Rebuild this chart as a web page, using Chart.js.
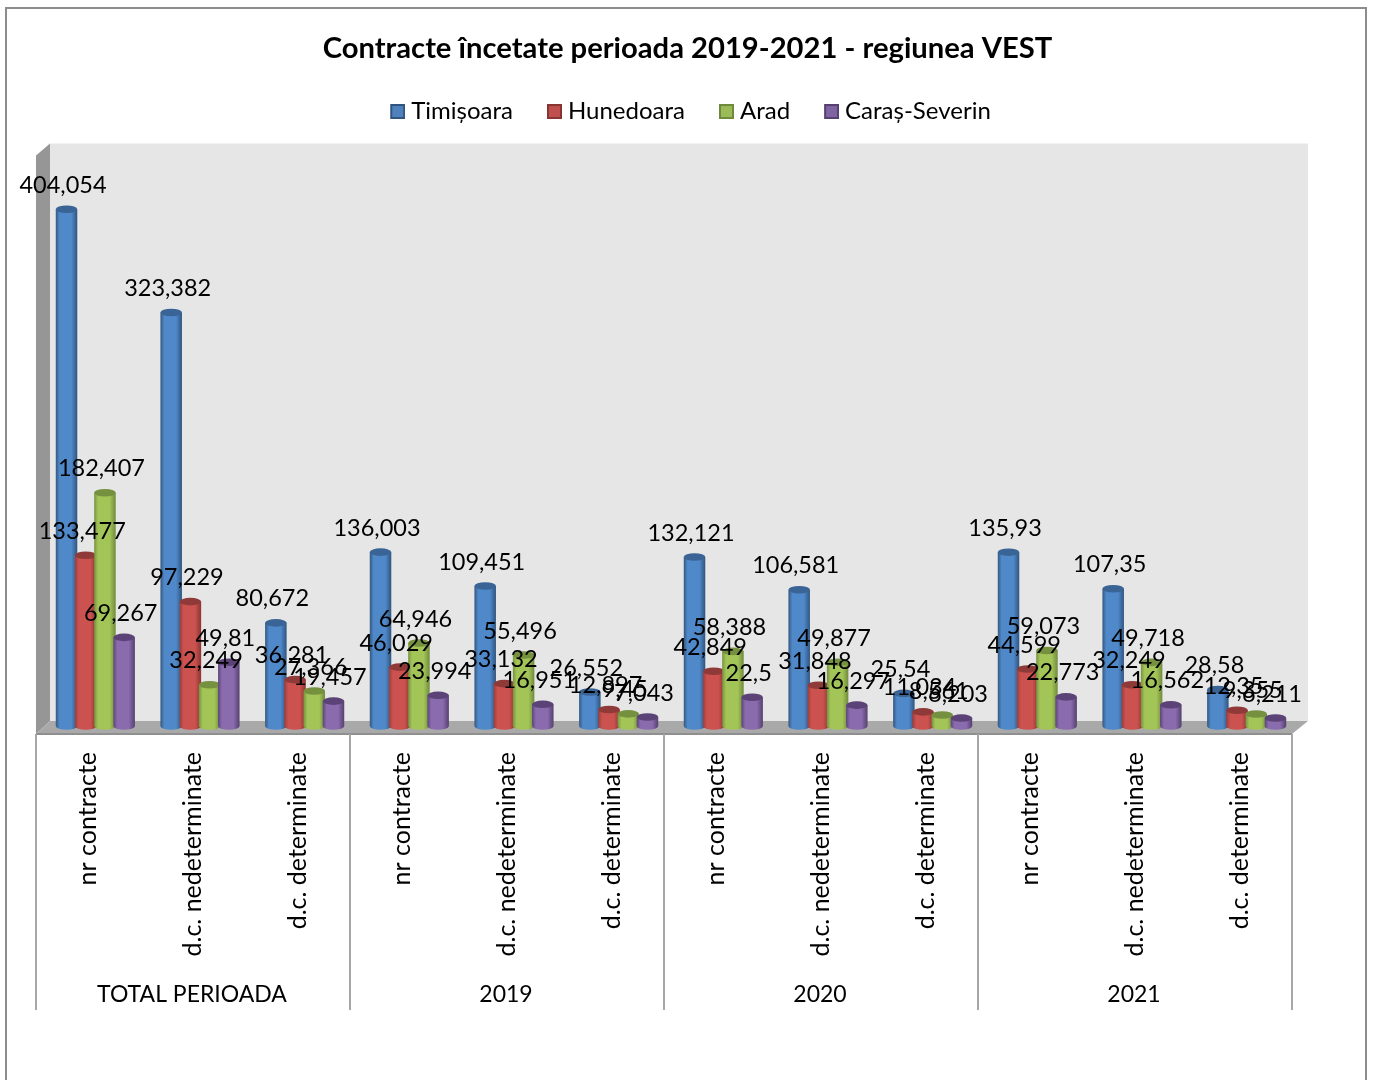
<!DOCTYPE html>
<html>
<head>
<meta charset="utf-8">
<script src="https://cdn.jsdelivr.net/npm/chart.js@4/dist/chart.umd.min.js"></script>
<style>
  html, body { margin: 0; padding: 0; background: #fff; overflow: hidden; }
  #wrap { position: relative; width: 1375px; height: 1080px; }
  #frame { position: absolute; left: 5px; top: 7px; width: 1358px; height: 1200px; border: 2px solid #8c8c8c; }
  canvas { position: absolute; left: 0; top: 0; }
</style>
</head>
<body>
<div id="wrap">
  <div id="frame"></div>
  <canvas id="chart" width="1375" height="1080"></canvas>
</div>
<script>
const groups = ["TOTAL PERIOADA", "2019", "2020", "2021"];
const categories = [
    "nr contracte", "d.c. nedeterminate", "d.c. determinate",
    "nr contracte", "d.c. nedeterminate", "d.c. determinate",
    "nr contracte", "d.c. nedeterminate", "d.c. determinate",
    "nr contracte", "d.c. nedeterminate", "d.c. determinate"
];
const seriesNames = ["Timișoara", "Hunedoara", "Arad", "Caraș-Severin"];
const timisoara = [404.054, 323.382, 80.672, 136.003, 109.451, 26.552, 132.121, 106.581, 25.54, 135.93, 107.35, 28.58];
const hunedoara = [133.477, 97.229, 36.281, 46.029, 33.132, 12.897, 42.849, 31.848, 11.034, 44.599, 32.249, 12.35];
const arad = [182.407, 32.249, 27.366, 64.946, 55.496, 9.45, 58.388, 49.877, 8.561, 59.073, 49.718, 9.355];
const carasSeverin = [69.267, 49.81, 19.457, 23.994, 16.951, 7.043, 22.5, 16.297, 6.203, 22.773, 16.562, 6.211];

const FONT = "Lato, Carlito, Calibri, sans-serif";
// left edge, middle, right edge, cap, legend fill
const shades = [
    ["#33587f", "#5089ca", "#2f5580", "#3a6496", "#4f81bd"],
    ["#9a3d3a", "#cb524f", "#8a3432", "#8f3a38", "#c0504d"],
    ["#76913f", "#a3c558", "#6f8a3b", "#75913f", "#9bbb59"],
    ["#5c4479", "#8a6bae", "#55406f", "#5b4377", "#8064a2"]
];

function cylinder(ctx, el, s) {
    const r = el.width / 2, ry = 3.8;
    const g = ctx.createLinearGradient(el.x - r, 0, el.x + r, 0);
    g.addColorStop(0, s[0]);
    g.addColorStop(0.18, s[1]);
    g.addColorStop(0.72, s[1]);
    g.addColorStop(1, s[2]);
    ctx.fillStyle = g;
    ctx.beginPath();
    ctx.ellipse(el.x, el.base, r, ry, 0, 0, Math.PI);
    ctx.lineTo(el.x - r, el.y);
    ctx.lineTo(el.x + r, el.y);
    ctx.closePath();
    ctx.fill();
    ctx.fillStyle = s[3];
    ctx.beginPath();
    ctx.ellipse(el.x, el.y, r, ry, 0, 0, Math.PI * 2);
    ctx.fill();
}

// legend square, with blank space on its left so it sits closer to the text
function legendSwatch(s) {
    const c = document.createElement("canvas");
    c.width = 27;
    c.height = 15;
    const x = c.getContext("2d");
    x.fillStyle = s[4];
    x.strokeStyle = s[2];
    x.lineWidth = 2;
    x.fillRect(12, 0, 15, 15);
    x.strokeRect(13, 1, 13, 13);
    return c;
}

// walls, floor and the lines between the axis groups
const box3d = {
    id: "box3d",
    beforeDatasetsDraw(chart) {
        const { ctx, chartArea: a, scales } = chart;
        const l = a.left - 7, r = a.right - 7, b = a.bottom, top = a.top + 10;
        ctx.save();
        ctx.fillStyle = "#e6e6e6";
        ctx.fillRect(l + 14, top, r - l + 2, b - 5 - top);
        ctx.fillStyle = "#969696";
        ctx.beginPath();
        ctx.moveTo(l, top + 12);
        ctx.lineTo(l + 14, top);
        ctx.lineTo(l + 14, b - 5);
        ctx.lineTo(l, b + 8);
        ctx.fill();
        ctx.fillStyle = "#a9a9a9";
        ctx.beginPath();
        ctx.moveTo(l, b + 8);
        ctx.lineTo(l + 14, b - 5);
        ctx.lineTo(r + 16, b - 5);
        ctx.lineTo(r, b + 8);
        ctx.fill();
        ctx.strokeStyle = "#8f8f8f";
        ctx.lineWidth = 2;
        ctx.beginPath();
        ctx.moveTo(l, b + 8);
        ctx.lineTo(r, b + 8);
        ctx.stroke();
        ctx.strokeStyle = "#a6a6a6";
        ctx.beginPath();
        const step = scales.x2.width / groups.length;
        for (let i = 0; i <= groups.length; i++) {
            const x = scales.x2.getPixelForValue(0) - step / 2 + i * step - 7;
            ctx.moveTo(x, b + 8);
            ctx.lineTo(x, scales.x2.bottom);
        }
        ctx.stroke();
        ctx.restore();
    },
    beforeDatasetDraw() {
        return false;
    },
    afterDatasetsDraw(chart) {
        const ctx = chart.ctx;
        ctx.save();
        chart.data.datasets.forEach((ds, i) => {
            chart.getDatasetMeta(i).data.forEach(el => cylinder(ctx, el, shades[i]));
        });
        ctx.font = "23.5px " + FONT;
        ctx.fillStyle = "#000";
        ctx.textAlign = "center";
        ctx.textBaseline = "middle";
        chart.data.datasets.forEach((ds, i) => {
            chart.getDatasetMeta(i).data.forEach((el, j) => {
                ctx.fillText(String(ds.data[j]).replace(".", ","), el.x - 3.5, el.y - 24);
            });
        });
        ctx.restore();
    }
};

new Chart(document.getElementById("chart"), {
    type: "bar",
    data: {
        labels: categories,
        datasets: [timisoara, hunedoara, arad, carasSeverin].map((values, i) => ({
            label: seriesNames[i],
            data: values,
            backgroundColor: shades[i][4],
            borderColor: shades[i][2],
            borderWidth: 1,
            categoryPercentage: 0.734,
            barPercentage: 1.12
        }))
    },
    plugins: [box3d],
    options: {
        responsive: false,
        animation: false,
        layout: { padding: { left: 0, right: 0, top: 0, bottom: 70 } },
        plugins: {
            title: {
                display: true,
                text: "Contracte încetate perioada 2019-2021 - regiunea VEST",
                color: "#000",
                font: { family: FONT, size: 29.2, weight: "bold" },
                padding: { top: 31.5, bottom: 5 }
            },
            legend: {
                position: "top",
                labels: {
                    color: "#000",
                    font: { family: FONT, size: 24 },
                    boxWidth: 15,
                    boxHeight: 15,
                    usePointStyle: true,
                    padding: 28,
                    generateLabels(chart) {
                        const items = Chart.defaults.plugins.legend.labels.generateLabels(chart);
                        items.forEach((item, i) => { item.pointStyle = legendSwatch(shades[i]); });
                        return items;
                    }
                }
            },
            tooltip: { enabled: false }
        },
        scales: {
            x: {
                weight: 0,
                grid: { display: false, tickLength: 0 },
                border: { display: false },
                ticks: {
                    color: "#000",
                    font: { family: FONT, size: 25 },
                    autoSkip: false,
                    minRotation: 90,
                    maxRotation: 90,
                    padding: 26,
                    labelOffset: -7
                },
                afterFit(scale) { scale.height = 253; }
            },
            x2: {
                axis: "x",
                type: "category",
                position: "bottom",
                weight: 1,
                labels: groups,
                offset: true,
                grid: { display: false, tickLength: 0 },
                border: { display: false },
                ticks: {
                    color: "#000",
                    font: { family: FONT, size: 23 },
                    autoSkip: false,
                    maxRotation: 0,
                    padding: 2,
                    labelOffset: -8
                },
                afterFit(scale) { scale.height = 31; }
            },
            y: {
                position: "left",
                min: 0,
                max: 463.3,
                grid: { display: false },
                border: { display: false },
                ticks: { display: false },
                afterFit(scale) { scale.width = 43; }
            },
            y2: {
                position: "right",
                grid: { display: false },
                border: { display: false },
                ticks: { display: false },
                afterFit(scale) { scale.width = 76; }
            }
        }
    }
});
</script>
</body>
</html>
